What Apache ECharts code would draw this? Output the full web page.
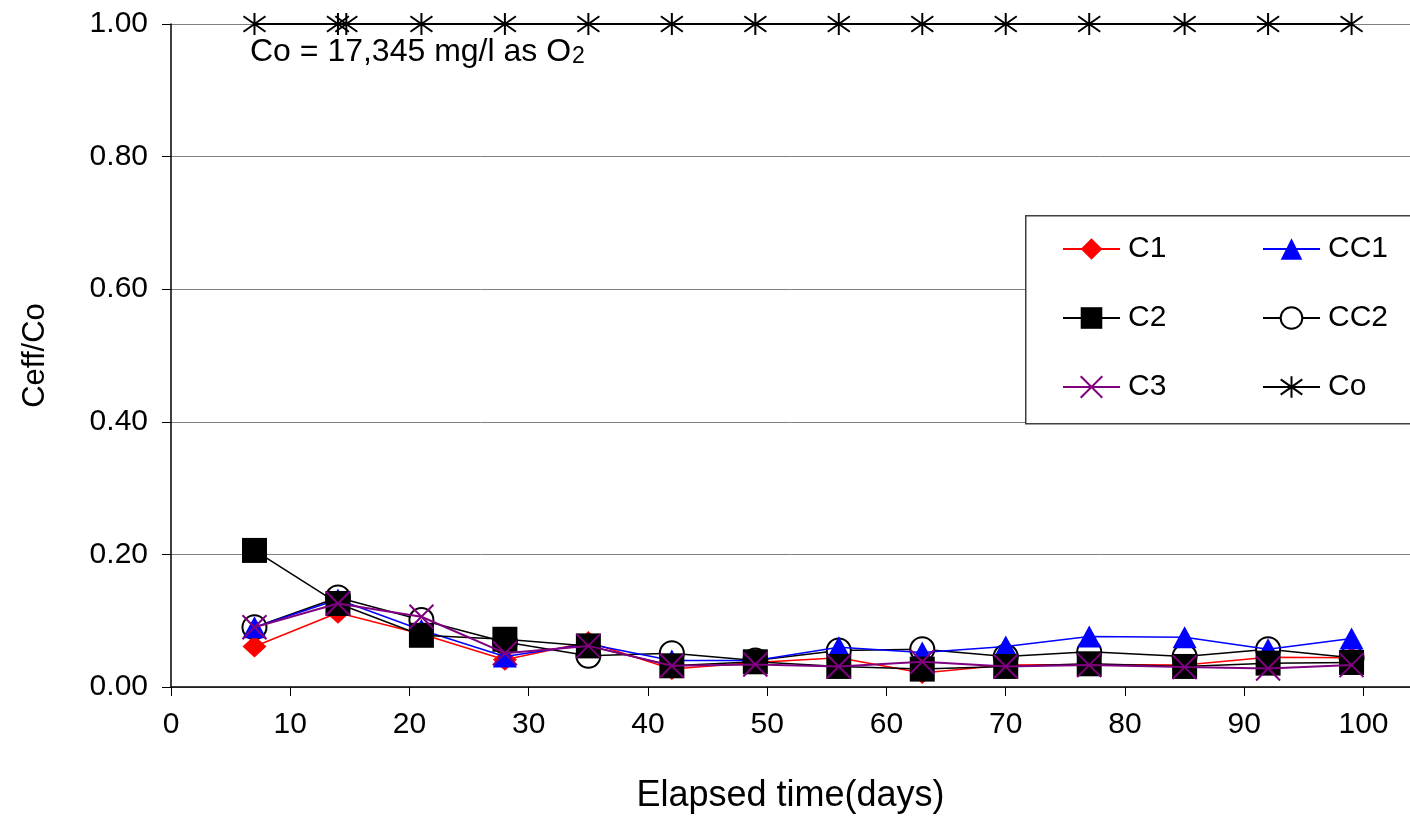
<!DOCTYPE html>
<html>
<head>
<meta charset="utf-8">
<script src="https://cdn.jsdelivr.net/npm/echarts@6/dist/echarts.min.js"></script>
<style>
html,body{margin:0;padding:0;background:#fff;}
#chart{width:1410px;height:823px;}
</style>
</head>
<body>
<div id="chart"></div>
<script>
// ---- data ----
const days = [7, 14, 21, 28, 35, 42, 49, 56, 63, 70, 77, 85, 92, 99];
const C1  = [0.061, 0.112, 0.080, 0.041, 0.068, 0.027, 0.037, 0.044, 0.021, 0.033, 0.034, 0.033, 0.045, 0.044];
const CC1 = [0.090, 0.132, 0.086, 0.046, 0.065, 0.040, 0.040, 0.060, 0.052, 0.061, 0.076, 0.075, 0.057, 0.073];
const C2  = [0.206, 0.126, 0.078, 0.072, 0.062, 0.032, 0.038, 0.031, 0.027, 0.031, 0.035, 0.031, 0.036, 0.037];
const CC2 = [0.090, 0.135, 0.101, 0.068, 0.047, 0.051, 0.040, 0.055, 0.057, 0.046, 0.053, 0.046, 0.057, 0.044];
const C3  = [0.090, 0.126, 0.106, 0.051, 0.062, 0.032, 0.034, 0.031, 0.038, 0.031, 0.033, 0.030, 0.028, 0.033];
const coDays = [7, 14, 14.7, 21, 28, 35, 42, 49, 56, 63, 70, 77, 85, 92, 99];
const Co  = [1, 1, 1, 1, 1, 1, 1, 1, 1, 1, 1, 1, 1, 1, 1];
const xTicks = [0, 10, 20, 30, 40, 50, 60, 70, 80, 90, 100];
const annotation = 'Co = 17,345 mg/l as O';

const pair = (xs, ys) => xs.map((x, i) => [x, ys[i]]);
const FONT = 'Liberation Sans, Arial, sans-serif';
const crossPath = 'path://M0,0 L20,20 M0,20 L20,0';
const starPath = 'path://M10,0 L10,20 M1,3 L19,17 M1,17 L19,3';

const legendText = {fontSize: 30, lineHeight: 30, color: '#000', fontFamily: FONT, padding: [0, 0, 0, 3]};
const legendCommon = {orient: 'vertical', top: 229, z: 20, itemWidth: 57, itemHeight: 27, itemGap: 39, textStyle: legendText};

const chart = echarts.init(document.getElementById('chart'));
chart.setOption({
  animation: false,
  backgroundColor: '#fff',
  grid: {left: 171, top: 24, right: 0, bottom: 136},
  xAxis: {
    type: 'value', min: 0, max: 103.9,
    axisLine: {lineStyle: {color: '#000', width: 1.5}},
    axisTick: {show: true, length: 9, inside: false, customValues: xTicks, lineStyle: {color: '#000'}},
    axisLabel: {customValues: xTicks, fontSize: 30, color: '#000', fontFamily: FONT, margin: 23},
    splitLine: {show: false},
    name: 'Elapsed time(days)', nameLocation: 'middle', nameGap: 91,
    nameTextStyle: {fontSize: 36, color: '#000', fontFamily: FONT}
  },
  yAxis: {
    type: 'value', min: 0, max: 1, interval: 0.2,
    axisLine: {show: true, lineStyle: {color: '#000', width: 1.5}},
    axisTick: {show: true, length: 9, lineStyle: {color: '#000'}},
    axisLabel: {fontSize: 30, color: '#000', fontFamily: FONT, margin: 23, formatter: v => v.toFixed(2)},
    splitLine: {show: true, lineStyle: {color: '#808080', width: 1}},
    name: 'Ceff/Co', nameLocation: 'middle', nameGap: 120,
    nameTextStyle: {fontSize: 31, color: '#000', fontFamily: FONT}
  },
  legend: [
    Object.assign({left: 1057, data: [
      {name: 'C1'},
      {name: 'C2'},
      {name: 'C3', itemStyle: {color: 'rgba(0,0,0,0)', borderColor: '#800080', borderWidth: 2}}
    ]}, legendCommon),
    Object.assign({left: 1257, data: [
      {name: 'CC1'},
      {name: 'CC2'},
      {name: 'Co', itemStyle: {color: 'rgba(0,0,0,0)', borderColor: '#000', borderWidth: 2}}
    ]}, legendCommon)
  ],
  graphic: [
    {type: 'rect', left: 1025, top: 215, z: 1, silent: true,
     shape: {width: 400, height: 208}, style: {fill: '#fff', stroke: '#404040', lineWidth: 1.5}},
    {type: 'text', left: 250, top: 36, z: 10,
     style: {text: annotation + '{s|2}', fontSize: 32, fontFamily: FONT, fill: '#000',
       rich: {s: {fontSize: 23, fontFamily: FONT, fill: '#000', verticalAlign: 'bottom', padding: [8, 0, 0, 1]}}}}
  ],
  series: [
    {name: 'CC2', type: 'line', data: pair(days, CC2), z: 2, clip: false,
     symbol: 'emptyCircle', symbolSize: 24,
     lineStyle: {color: '#000', width: 1.5},
     itemStyle: {color: '#000', borderColor: '#000', borderWidth: 2}},
    {name: 'C1', type: 'line', data: pair(days, C1), z: 3, clip: false,
     symbol: 'diamond', symbolSize: [24, 22],
     lineStyle: {color: '#ff0000', width: 1.5},
     itemStyle: {color: '#ff0000'}},
    {name: 'CC1', type: 'line', data: pair(days, CC1), z: 4, clip: false,
     symbol: 'triangle', symbolSize: [24, 22],
     lineStyle: {color: '#0000ff', width: 1.5},
     itemStyle: {color: '#0000ff'}},
    {name: 'C2', type: 'line', data: pair(days, C2), z: 5, clip: false,
     symbol: 'rect', symbolSize: 25,
     lineStyle: {color: '#000', width: 1.5},
     itemStyle: {color: '#000'}},
    {name: 'C3', type: 'line', data: pair(days, C3), z: 6, clip: false,
     symbol: crossPath, symbolSize: 24,
     lineStyle: {color: '#800080', width: 2},
     itemStyle: {color: 'rgba(0,0,0,0)', borderColor: '#800080', borderWidth: 2}},
    {name: 'Co', type: 'line', data: pair(coDays, Co), z: 7, clip: false,
     symbol: starPath, symbolSize: 22,
     lineStyle: {color: '#000', width: 2},
     itemStyle: {color: 'rgba(0,0,0,0)', borderColor: '#000', borderWidth: 2}}
  ]
});
</script>
</body>
</html>
